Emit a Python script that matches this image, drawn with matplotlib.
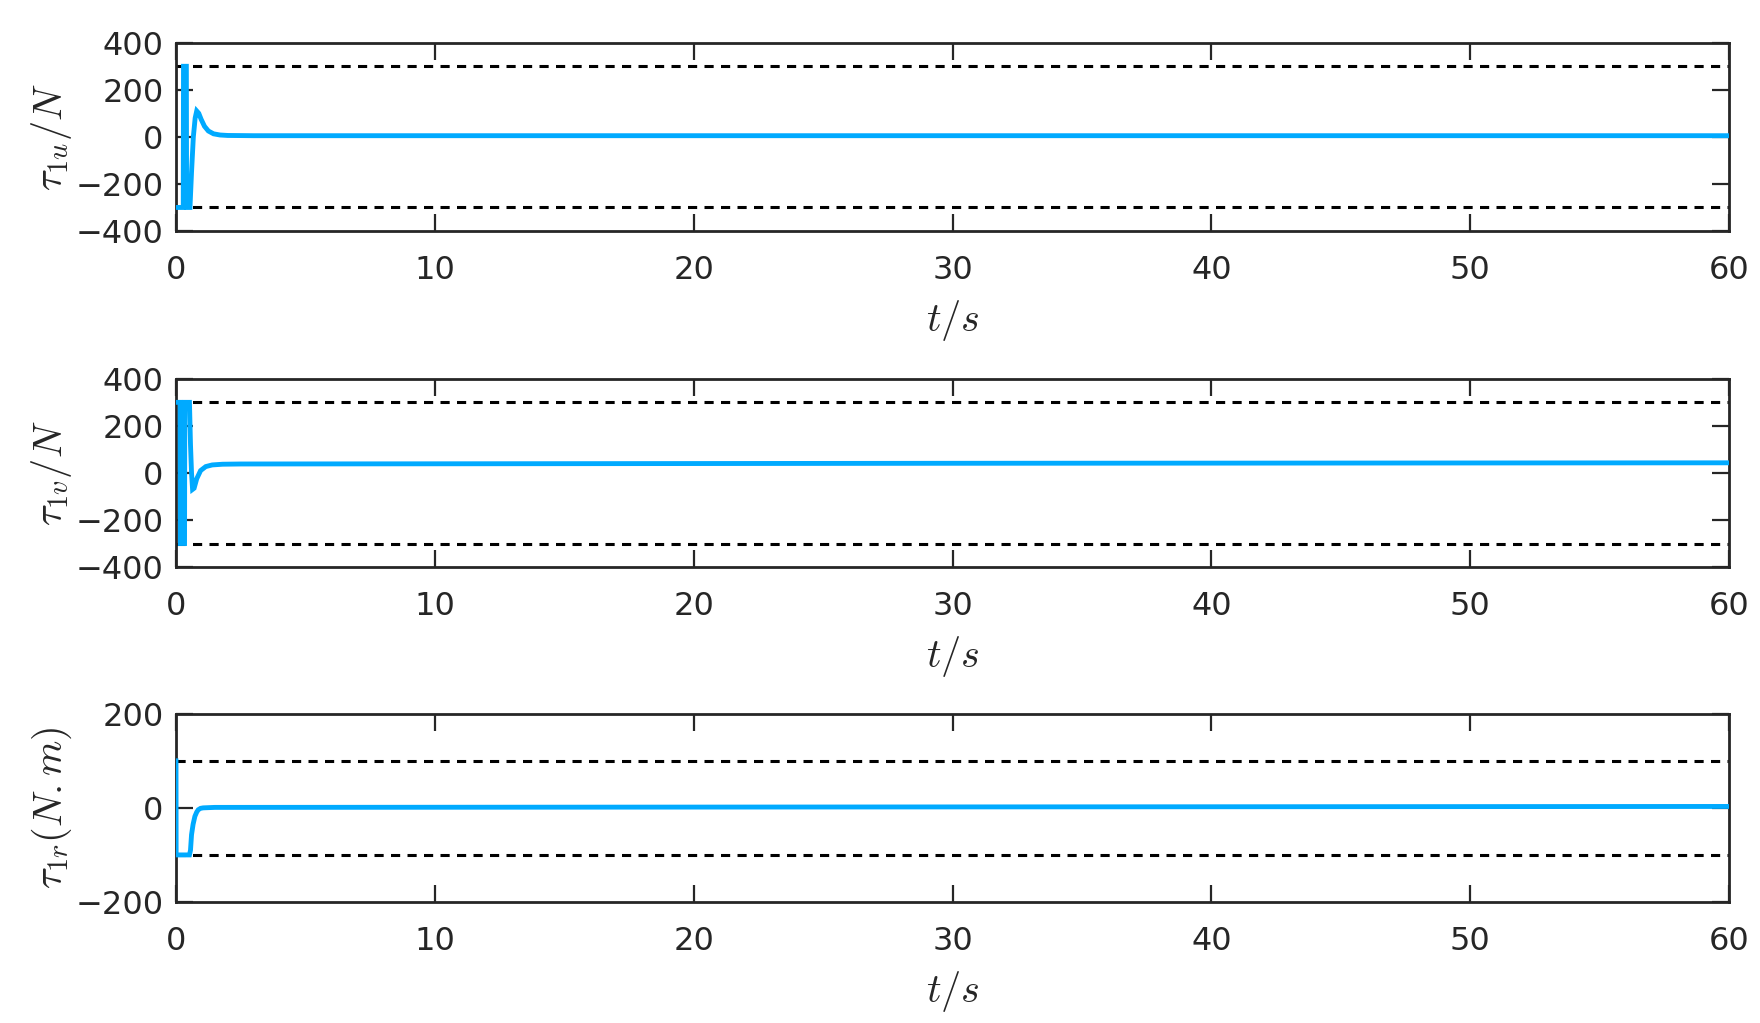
import matplotlib
matplotlib.use("Agg")
import matplotlib.pyplot as plt

# ---- data ----
t_u = [0, 0.28, 0.29, 0.40, 0.41, 0.54, 0.60, 0.67, 0.74, 0.80, 0.88, 0.97, 1.1, 1.25, 1.45, 1.7, 2.0, 3.0, 30, 60]
tau_u = [-300, -300, 300, 300, -300, -300, -150, 0, 80, 110, 100, 75, 45, 25, 13, 8, 6, 5, 5, 5]

t_v = [0, 0.16, 0.17, 0.33, 0.34, 0.52, 0.56, 0.60, 0.64, 0.70, 0.80, 0.95, 1.15, 1.4, 1.8, 2.5, 30, 60]
tau_v = [300, 300, -300, -300, 300, 300, 120, 0, -70, -65, -25, 10, 27, 34, 37, 38, 41, 43]

t_r = [0, 0.005, 0.52, 0.56, 0.60, 0.66, 0.73, 0.80, 0.86, 0.95, 1.05, 1.5, 30, 60]
tau_r = [100, -100, -100, -90, -57, -35, -18, -9, -4, -1, 0, 1, 2, 3]

limits = [300, 300, 100]
ylims = [(-400, 400), (-400, 400), (-200, 200)]
yticks = [[-400, -200, 0, 200, 400], [-400, -200, 0, 200, 400], [-200, 0, 200]]
xticks = [0, 10, 20, 30, 40, 50, 60]
ylabels = [r'$\tau_{1u}/N$', r'$\tau_{1v}/N$', r'$\tau_{1r}(N.m)$']
xlabel = r'$t/s$'

plt.rcParams['font.family'] = ['DejaVu Sans']
plt.rcParams['mathtext.fontset'] = 'cm'

fig = plt.figure(figsize=(17.6, 10.23), dpi=100)
bottoms = [0.7742, 0.4457, 0.1183]
height = 0.184
left, width = 0.1, 0.8824

series = [(t_u, tau_u), (t_v, tau_v), (t_r, tau_r)]
line_color = '#00AAFF'
txt_color = '#262626'

for i, (tt, yy) in enumerate(series):
    ax = fig.add_axes([left, bottoms[i], width, height])
    ax.plot(tt, yy, color=line_color, lw=3.5, solid_joinstyle='miter', zorder=3)
    ax.axhline(limits[i], color='black', lw=2.2, ls=(0, (3, 2.4)), zorder=2)
    ax.axhline(-limits[i], color='black', lw=2.2, ls=(0, (3, 2.4)), zorder=2)
    ax.set_xlim(0, 60)
    ax.set_ylim(*ylims[i])
    ax.set_xticks(xticks)
    ax.set_yticks(yticks[i])
    ax.tick_params(direction='in', length=12, width=1.6, labelsize=23,
                   top=True, right=True, colors=txt_color)
    ax.tick_params(axis='x', pad=17)
    ax.tick_params(axis='y', pad=9)
    for sp in ax.spines.values():
        sp.set_linewidth(2.0)
        sp.set_color(txt_color)
    ax.set_xlabel(xlabel, fontsize=29, labelpad=9, color=txt_color)
    ax.set_ylabel(ylabels[i], fontsize=29, labelpad=1, color=txt_color)

fig.savefig('out.png', dpi=100, facecolor='white')
